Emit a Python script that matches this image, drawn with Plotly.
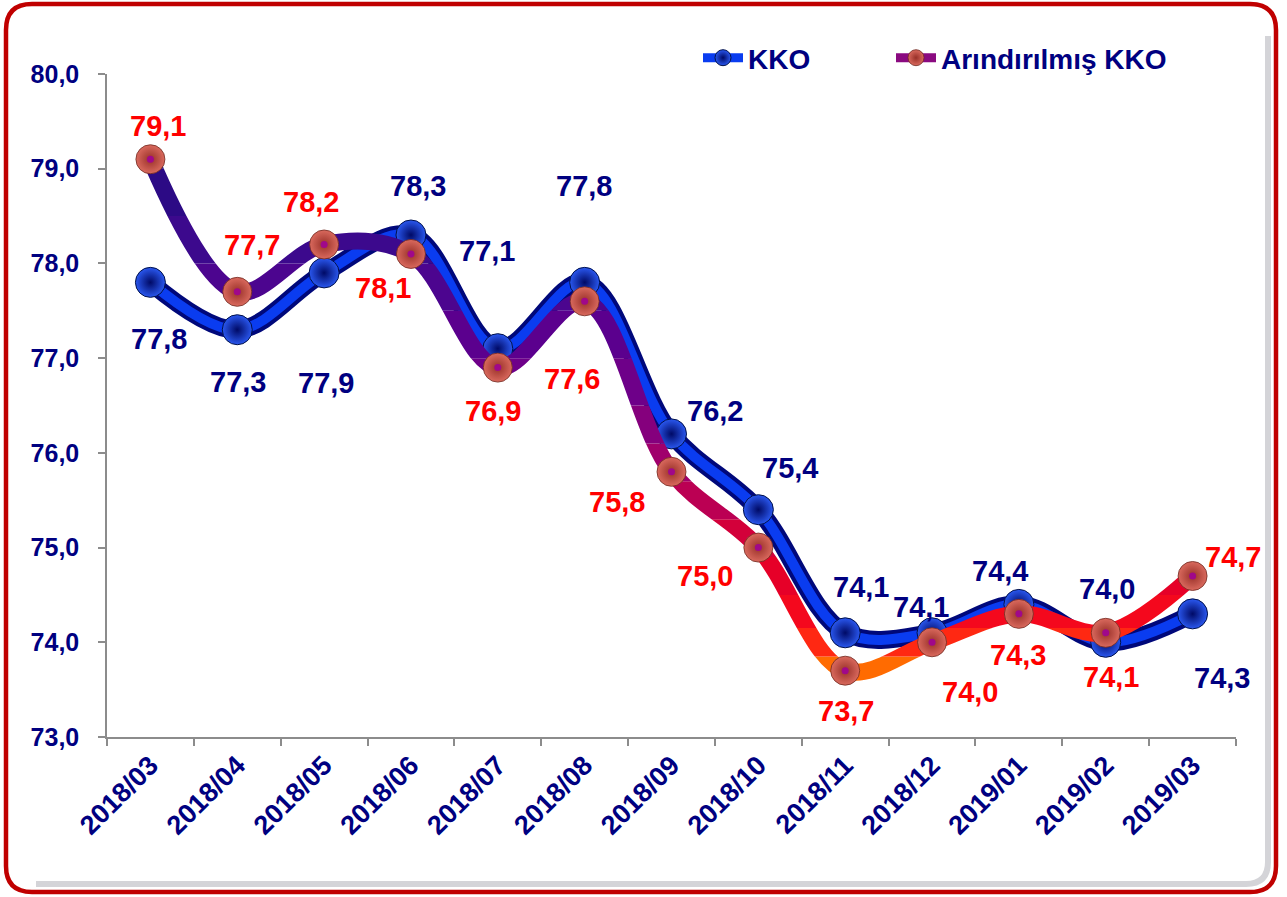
import plotly.graph_objects as go

# ---------------- data ----------------
months = ["2018/03", "2018/04", "2018/05", "2018/06", "2018/07", "2018/08", "2018/09",
          "2018/10", "2018/11", "2018/12", "2019/01", "2019/02", "2019/03"]
kko = [77.8, 77.3, 77.9, 78.3, 77.1, 77.8, 76.2, 75.4, 74.1, 74.1, 74.4, 74.0, 74.3]
arindirilmis = [79.1, 77.7, 78.2, 78.1, 76.9, 77.6, 75.8, 75.0, 73.7, 74.0, 74.3, 74.1, 74.7]
y_tick_values = [73, 74, 75, 76, 77, 78, 79, 80]
series_names = ["KKO", "Arındırılmış KKO"]

# ---------------- style ----------------
FONT = "Liberation Sans, Arial, Helvetica, sans-serif"
NAVY = "#000080"
RED_TXT = "#ff0000"
Y0, Y1 = 73.0, 80.0
W, H = 1287, 897
ML, MR, MT, MB = 107, 51, 74, 160
PW, PH = W - ML - MR, H - MT - MB

# label offsets in screen pixels (dx right, dy down) relative to the point
kko_label_offsets = [(9, 57), (1, 52), (2, 110), (7, -49), (-11, -98), (-1, -96), (43, -23),
                     (32, -42), (16, -46), (-11, -26), (-19, -33), (1, -53), (29, 64)]
arin_label_offsets = [(8, -33), (15, -47), (-13, -42), (-28, 34), (-5, 43), (-13, 78), (-55, 30),
                      (-53, 28), (1, 40), (38, 50), (-1, 41), (5, 44), (40, -19)]

# vertical colour bands of the second line (value edges) and colour stops
band_edges = [73.0, 73.85, 74.15, 74.5, 74.9, 75.3, 75.7, 76.1, 76.5, 77.0, 77.5, 78.0, 78.5, 79.0, 80.0]
color_stops = [(73.4, (255, 110, 0)), (74.0, (255, 40, 18)), (74.4, (242, 0, 32)), (74.9, (222, 0, 46)),
               (75.3, (200, 0, 70)), (75.9, (160, 0, 108)), (76.5, (120, 0, 134)), (77.2, (92, 0, 142)),
               (78.0, (68, 8, 144)), (78.6, (48, 10, 136)), (79.3, (28, 10, 124))]


def interp_color(v):
    if v <= color_stops[0][0]:
        c = color_stops[0][1]
    elif v >= color_stops[-1][0]:
        c = color_stops[-1][1]
    else:
        for (v0, c0), (v1, c1) in zip(color_stops[:-1], color_stops[1:]):
            if v0 <= v <= v1:
                t = (v - v0) / (v1 - v0)
                c = tuple(round(a + (b - a) * t) for a, b in zip(c0, c1))
                break
    return "rgb(%d,%d,%d)" % c


def fmt(v):
    return f"{v:.1f}".replace(".", ",")


fig = go.Figure()
SPL = dict(shape="spline", smoothing=1.0)
BLUE_MARKER = dict(color="#2a58f0", gradient=dict(type="radial", color="#000a66"),
                   line=dict(width=1, color="#00104a"))
RED_MARKER = dict(color="#da6a5e", gradient=dict(type="radial", color="#983028"),
                  line=dict(width=0.8, color="#70281f"))

# ---- KKO line (tube look: navy under, blue on top) ----
fig.add_trace(go.Scatter(x=months, y=kko, mode="lines", showlegend=False, hoverinfo="skip",
                         line=dict(color="#00087a", width=18, **SPL)))
fig.add_trace(go.Scatter(x=months, y=kko, mode="lines", showlegend=False, hoverinfo="skip",
                         line=dict(color="#0a3cf0", width=10, **SPL)))
fig.add_trace(go.Scatter(x=months, y=kko, mode="markers", showlegend=False, hoverinfo="skip",
                         marker=dict(size=30, **BLUE_MARKER)))

layout_axes = {}
# ---- Arındırılmış KKO line drawn in horizontal colour bands (clipped sub-plots) ----
for k in range(len(band_edges) - 1):
    lo, hi = band_edges[k], band_edges[k + 1]
    n = k + 2
    layout_axes[f"yaxis{n}"] = dict(domain=[(lo - Y0) / (Y1 - Y0), (hi - Y0) / (Y1 - Y0)],
                                    range=[lo, hi], visible=False, anchor="x", fixedrange=True)
    fig.add_trace(go.Scatter(x=months, y=arindirilmis, xaxis="x", yaxis=f"y{n}", mode="lines",
                             showlegend=False, hoverinfo="skip",
                             line=dict(color=interp_color((lo + hi) / 2), width=17, **SPL)))

top = len(band_edges) + 1
layout_axes[f"yaxis{top}"] = dict(domain=[0, 1], range=[Y0, Y1], visible=False, anchor="x", fixedrange=True)
fig.add_trace(go.Scatter(x=months, y=arindirilmis, xaxis="x", yaxis=f"y{top}", mode="markers",
                         showlegend=False, hoverinfo="skip", marker=dict(size=29, **RED_MARKER)))
fig.add_trace(go.Scatter(x=months, y=arindirilmis, xaxis="x", yaxis=f"y{top}", mode="markers",
                         showlegend=False, hoverinfo="skip",
                         marker=dict(size=7, color="#a0088a")))

# ---- legend entries (two legends so each can be placed) ----
fig.add_trace(go.Scatter(x=[None], y=[None], mode="lines+markers", name=series_names[0], legend="legend",
                         line=dict(color="#0a3cf0", width=9), marker=dict(size=16, **BLUE_MARKER)))
fig.add_trace(go.Scatter(x=[None], y=[None], mode="lines+markers", name=series_names[1], legend="legend2",
                         line=dict(color="#8a0a80", width=9), marker=dict(size=16, **RED_MARKER)))

# ---- data labels ----
annotations = []
for vals, offs, col in ((kko, kko_label_offsets, NAVY), (arindirilmis, arin_label_offsets, RED_TXT)):
    for m, v, (dx, dy) in zip(months, vals, offs):
        annotations.append(dict(x=m, y=v, xref="x", yref="y", text=fmt(v), showarrow=False,
                                xshift=dx, yshift=-dy,
                                font=dict(family=FONT, size=29, color=col, weight="bold")))


# ---- rounded border ----
def xp(px):
    return (px - ML) / PW


def yp(py):
    return (H - MB - py) / PH


def rounded_path(x0, y0, x1, y1, r):
    pts = [("M", xp(x0 + r), yp(y0)), ("L", xp(x1 - r), yp(y0)),
           ("Q", xp(x1), yp(y0), xp(x1), yp(y0 + r)), ("L", xp(x1), yp(y1 - r)),
           ("Q", xp(x1), yp(y1), xp(x1 - r), yp(y1)), ("L", xp(x0 + r), yp(y1)),
           ("Q", xp(x0), yp(y1), xp(x0), yp(y1 - r)), ("L", xp(x0), yp(y0 + r)),
           ("Q", xp(x0), yp(y0), xp(x0 + r), yp(y0))]
    s = ""
    for p in pts:
        s += p[0] + " " + " ".join(f"{c:.5f}" for c in p[1:]) + " "
    return s + "Z"


shapes = [
    dict(type="path", xref="paper", yref="paper", layer="below",
         path=f"M {xp(1268):.5f} {yp(36):.5f} L {xp(1268):.5f} {yp(862):.5f} Q {xp(1268):.5f} {yp(884):.5f} {xp(1246):.5f} {yp(884):.5f} L {xp(36):.5f} {yp(884):.5f}",
         line=dict(color="#d4d4d8", width=6)),
    dict(type="path", xref="paper", yref="paper", layer="below",
         path=rounded_path(6, 4, 1276, 892, 26), line=dict(color="#c00000", width=4.5)),
]

legend_common = dict(orientation="h", xanchor="left", yanchor="middle", y=yp(58),
                     font=dict(family=FONT, size=28, color=NAVY, weight="bold"),
                     bgcolor="rgba(0,0,0,0)", itemwidth=40)

fig.update_layout(
    width=W, height=H,
    margin=dict(l=ML, r=MR, t=MT, b=MB, pad=0),
    paper_bgcolor="white", plot_bgcolor="rgba(0,0,0,0)",
    separators=", ",
    font=dict(family=FONT, color=NAVY),
    showlegend=True,
    legend=dict(x=xp(698), **legend_common),
    legend2=dict(x=xp(891), **legend_common),
    xaxis=dict(type="category", categoryorder="array", categoryarray=months,
               range=[-0.5, len(months) - 0.5], tickson="boundaries",
               ticks="outside", ticklen=7, tickwidth=1.5, tickcolor="#8c8c8c",
               showline=True, linecolor="#8c8c8c", linewidth=1.5, showgrid=False, zeroline=False,
               tickangle=-45, tickfont=dict(family=FONT, size=27, color=NAVY, weight="bold"),
               anchor="y", fixedrange=True),
    yaxis=dict(range=[Y0, Y1], tickvals=y_tick_values, ticktext=[fmt(v) for v in y_tick_values],
               ticks="outside", ticklen=7, tickwidth=1.5, tickcolor="#8c8c8c",
               showline=True, linecolor="#8c8c8c", linewidth=1.5, showgrid=False, zeroline=False,
               tickfont=dict(family=FONT, size=25, color=NAVY, weight="bold"),
               ticklabelstandoff=14, anchor="x", domain=[0, 1], fixedrange=True),
    annotations=annotations,
    shapes=shapes,
    **layout_axes,
)

fig.write_html("out.html", config={"displayModeBar": False},
               post_script="document.body.style.margin='0';document.body.style.overflow='hidden';")
